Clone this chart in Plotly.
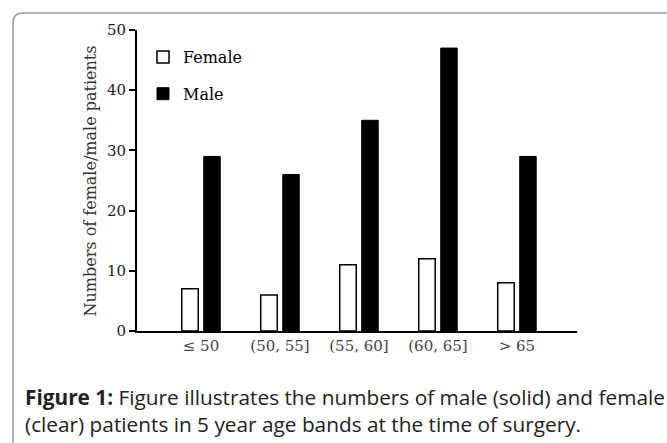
import plotly.graph_objects as go

categories = ["≤ 50", "(50, 55]", "(55, 60]", "(60, 65]", "> 65"]
female = [7, 6, 11, 12, 8]
male = [29, 26, 35, 47, 29]
y_ticks = [0, 10, 20, 30, 40, 50]

W, H = 667, 443
L, R, T, B = 137, 90, 30, 112
PW, PH = W - L - R, H - T - B

def px(x):
    return (x - L) / PW

def py(y):
    return (H - B - y) / PH

serif = "DejaVu Serif, serif"

fig = go.Figure()
fig.add_trace(go.Bar(name="Female", x=categories, y=female, legendgroup="f",
                     marker=dict(color="white", line=dict(color="black", width=1.5))))
fig.add_trace(go.Bar(name="Male", x=categories, y=male, legendgroup="m",
                     marker=dict(color="black", line=dict(color="black", width=1))))

r = 10
path = (f"M{px(13)},{py(460)} L{px(13)},{py(13 + r)} "
        f"Q{px(13)},{py(13)} {px(13 + r)},{py(13)} L{px(700)},{py(13)}")

fig.update_layout(
    width=W, height=H,
    margin=dict(l=L, r=R, t=T, b=B),
    paper_bgcolor="white", plot_bgcolor="white",
    barmode="group", bargap=0.443, bargroupgap=0.25,
    showlegend=True,
    legend=dict(x=px(143), y=py(40), xanchor="left", yanchor="top",
                font=dict(family=serif, size=16, color="black"),
                bgcolor="rgba(0,0,0,0)", traceorder="grouped", tracegroupgap=13,
                itemwidth=30),
    xaxis=dict(range=[-0.81, 4.76], showline=True, linecolor="black", linewidth=2,
               ticks="", showgrid=False, zeroline=False,
               tickfont=dict(family=serif, size=15, color="#444")),
    yaxis=dict(range=[0, 50], tickvals=y_ticks, showline=True, linecolor="black",
               linewidth=2, ticks="outside", ticklen=6, tickwidth=1.5, tickcolor="black",
               showgrid=False, zeroline=False,
               tickfont=dict(family=serif, size=15, color="#222")),
    shapes=[dict(type="path", path=path, xref="paper", yref="paper",
                 line=dict(color="#9a9a9a", width=1.5))],
    annotations=[
        dict(text="Numbers of female/male patients", textangle=-90,
             x=px(78), y=py(181), xref="paper", yref="paper", showarrow=False,
             font=dict(family=serif, size=16, color="#333")),
        dict(text="<b>Figure 1:</b> Figure illustrates the numbers of male (solid) and female<br>"
                  "(clear) patients in 5 year age bands at the time of surgery.",
             x=px(23), y=py(381), xref="paper", yref="paper", xanchor="left", yanchor="top",
             align="left", showarrow=False,
             font=dict(family="Open Sans, sans-serif", size=20.8, color="#222")),
    ],
)

fig.write_html("out.html", config={"displayModeBar": False},
               post_script="document.body.style.margin='0';")
